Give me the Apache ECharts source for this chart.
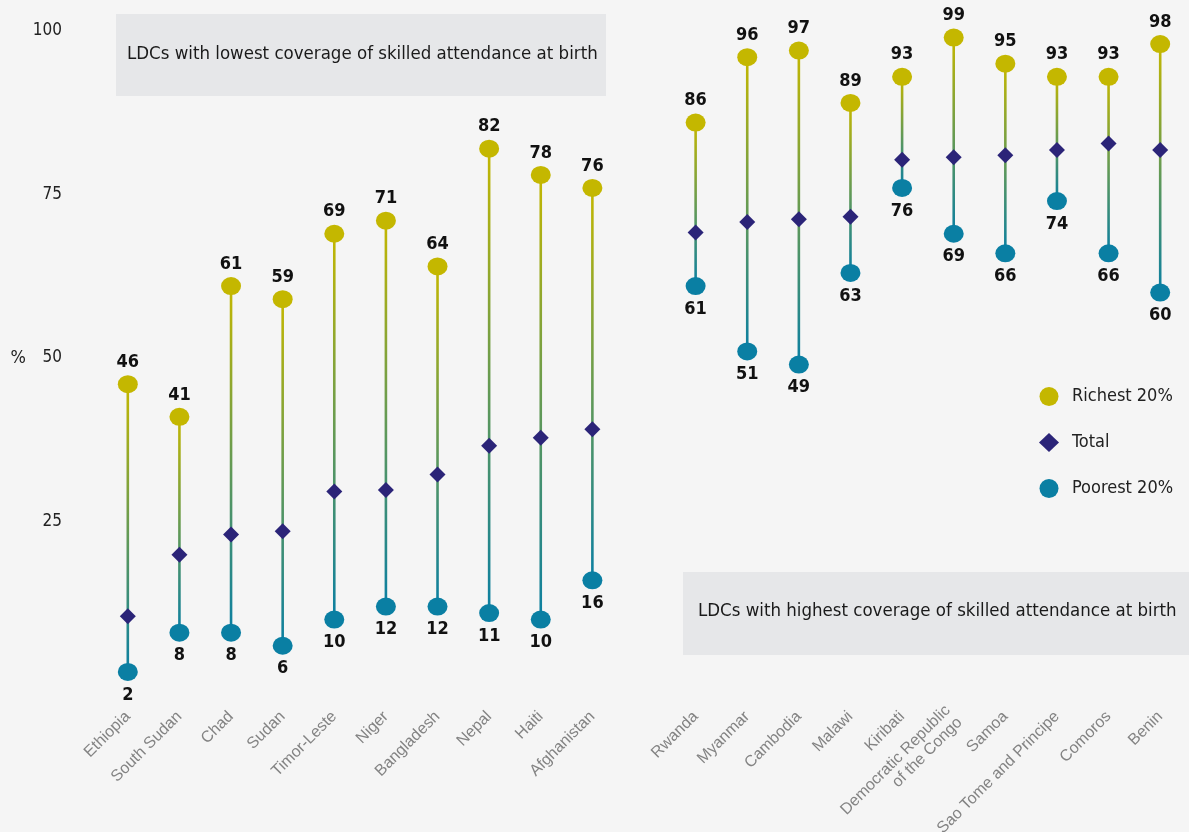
<!DOCTYPE html>
<html>
<head>
<meta charset="utf-8">
<script src="https://cdn.jsdelivr.net/npm/echarts@6/dist/echarts.min.js"></script>
<style>
html,body{margin:0;padding:0;background:#f5f5f5;}
#chart{width:1189px;height:832px;}
</style>
</head>
<body>
<div id="chart"></div>
<script>
var categories = ['Ethiopia','South Sudan','Chad','Sudan','Timor-Leste','Niger','Bangladesh','Nepal','Haiti','Afghanistan','',
  'Rwanda','Myanmar','Cambodia','Malawi','Kiribati','Democratic Republic\nof the Congo','Samoa','Sao Tome and Principe','Comoros','Benin'];
var richest = [46,41,61,59,69,71,64,82,78,76,null,86,96,97,89,93,99,95,93,93,98];
var total = [10.5,19.9,23.0,23.5,29.6,29.8,32.2,36.6,37.8,39.1,null,69.2,70.8,71.2,71.6,80.3,80.7,81.0,81.8,82.8,81.8];
var poorest = [2,8,8,6,10,12,12,11,10,16,null,61,51,49,63,76,69,66,74,66,60];
var yTicks = [25,50,75,100];
var groupTitles = ['LDCs with lowest coverage of skilled attendance at birth','LDCs with highest coverage of skilled attendance at birth'];

var COND = '"DejaVu Sans Condensed","Liberation Sans Narrow",sans-serif';
var YEL = '#c4b700', TEAL = '#0a7fa3', NAVY = '#2b2478';

var rangeData = categories.map(function (c, i) {
  return poorest[i] == null ? [i, null, null] : [i, poorest[i], richest[i]];
});

var chart = echarts.init(document.getElementById('chart'));
chart.setOption({
  backgroundColor: '#f5f5f5',
  animation: false,
  grid: {left: 102, right: 3, top: 31, bottom: 147, containLabel: false, outerBoundsMode: 'none'},
  xAxis: {
    type: 'category', data: categories, boundaryGap: true,
    axisLine: {show: false}, axisTick: {show: false},
    axisLabel: {rotate: 45, margin: 29, interval: 0, color: '#838383', fontSize: 16,
      fontFamily: '"Liberation Sans",Arial,sans-serif', lineHeight: 17}
  },
  yAxis: {
    type: 'value', min: 0, max: 100, interval: 25,
    name: '%', nameLocation: 'middle', nameRotate: 0, nameGap: 76,
    nameTextStyle: {color: '#222', fontSize: 18, fontFamily: COND},
    splitLine: {show: false}, axisLine: {show: false}, axisTick: {show: false},
    axisLabel: {showMinLabel: false, margin: 40, color: '#222', fontSize: 17, fontFamily: COND,
      formatter: function (v) { return yTicks.indexOf(v) >= 0 ? String(v) : ''; }}
  },
  legend: {
    orient: 'vertical', left: 1034, top: 382, itemGap: 27, itemWidth: 20, itemHeight: 19,
    textStyle: {color: '#222', fontSize: 18, fontFamily: COND, padding: [0,0,0,8]},
    data: [
      {name: 'Richest 20%', icon: 'circle'},
      {name: 'Total', icon: 'diamond'},
      {name: 'Poorest 20%', icon: 'circle'}
    ]
  },
  graphic: [
    {type: 'rect', left: 116, top: 14, z: 0, shape: {width: 490, height: 82}, style: {fill: '#e6e7e9'}},
    {type: 'text', left: 127, top: 45, z: 1, style: {text: groupTitles[0], fill: '#1a1a1a', font: '18.5px ' + COND}},
    {type: 'rect', left: 683, top: 572, z: 0, shape: {width: 506, height: 83}, style: {fill: '#e6e7e9'}},
    {type: 'text', left: 698, top: 602, z: 1, style: {text: groupTitles[1], fill: '#1a1a1a', font: '18.5px ' + COND}}
  ],
  series: [
    {
      type: 'custom', name: 'range', silent: true, z: 1,
      data: rangeData,
      encode: {x: 0, y: [1, 2]},
      renderItem: function (params, api) {
        if (api.value(1) == null || isNaN(api.value(1))) return null;
        var lo = api.coord([api.value(0), api.value(1)]);
        var hi = api.coord([api.value(0), api.value(2)]);
        return {
          type: 'rect',
          shape: {x: lo[0] - 1.3, y: hi[1], width: 2.6, height: lo[1] - hi[1]},
          style: {fill: new echarts.graphic.LinearGradient(0, 0, 0, 1, [
            {offset: 0, color: YEL}, {offset: 1, color: TEAL}])}
        };
      }
    },
    {
      type: 'scatter', name: 'Richest 20%', data: richest, z: 3,
      symbol: 'circle', symbolSize: [20, 18],
      itemStyle: {color: YEL, opacity: 1},
      label: {show: true, position: 'top', distance: 4, color: '#111', fontSize: 18, fontWeight: 'bold', fontFamily: COND}
    },
    {
      type: 'scatter', name: 'Total', data: total, z: 3,
      symbol: 'diamond', symbolSize: 16,
      itemStyle: {color: NAVY, opacity: 1}
    },
    {
      type: 'scatter', name: 'Poorest 20%', data: poorest, z: 3,
      symbol: 'circle', symbolSize: [20, 18],
      itemStyle: {color: TEAL, opacity: 1},
      label: {show: true, position: 'bottom', distance: 5, color: '#111', fontSize: 18, fontWeight: 'bold', fontFamily: COND}
    }
  ]
});
</script>
</body>
</html>
